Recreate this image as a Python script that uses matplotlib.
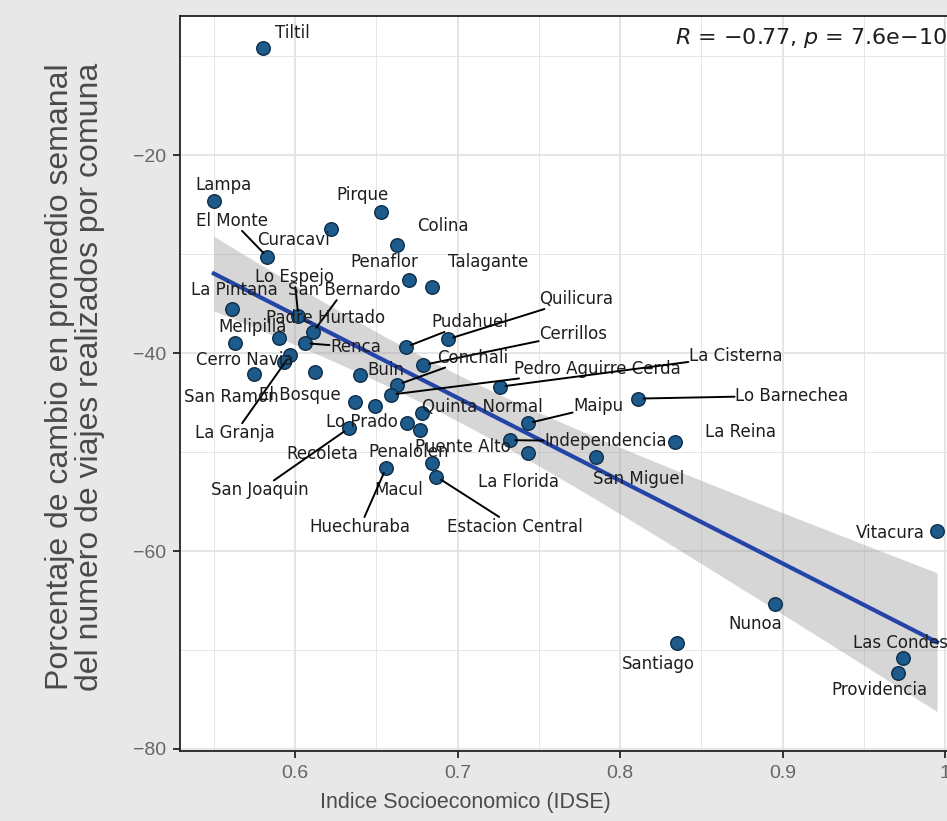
import numpy as np
import matplotlib.pyplot as plt

# IDSE vs % change in weekly trips per comuna
comunas = ['Tiltil', 'Lampa', 'Pirque', 'Curacavi', 'Colina', 'El Monte', 'Penaflor',
           'Talagante', 'La Pintana', 'Lo Espejo', 'San Bernardo', 'Padre Hurtado',
           'Melipilla', 'Renca', 'La Granja', 'Cerro Navia', 'San Ramon', 'El Bosque',
           'Buin', 'Pudahuel', 'Quilicura', 'Cerrillos', 'Conchali', 'Pedro Aguirre Cerda',
           'La Cisterna', 'Lo Prado', 'Recoleta', 'Quinta Normal', 'Penalolen', 'Puente Alto',
           'Macul', 'Huechuraba', 'Estacion Central', 'San Joaquin', 'Maipu', 'Independencia',
           'La Florida', 'San Miguel', 'La Reina', 'Lo Barnechea', 'Vitacura', 'Nunoa',
           'Santiago', 'Las Condes', 'Providencia']
idse = [0.580, 0.550, 0.653, 0.622, 0.663, 0.583, 0.670,
        0.684, 0.561, 0.602, 0.611, 0.590,
        0.563, 0.606, 0.597, 0.593, 0.575, 0.612,
        0.640, 0.668, 0.694, 0.679, 0.663, 0.659,
        0.726, 0.649, 0.637, 0.678, 0.669, 0.677,
        0.684, 0.656, 0.687, 0.633, 0.743, 0.732,
        0.743, 0.785, 0.834, 0.811, 0.995, 0.895,
        0.835, 0.974, 0.971]
cambio = [-9.2, -24.6, -25.8, -27.5, -29.1, -30.3, -32.6,
          -33.3, -35.6, -36.3, -37.9, -38.5,
          -39.0, -39.0, -40.2, -40.9, -42.1, -41.9,
          -42.2, -39.4, -38.6, -41.2, -43.2, -44.2,
          -43.4, -45.3, -44.9, -46.1, -47.1, -47.8,
          -51.1, -51.6, -52.5, -47.6, -47.1, -48.8,
          -50.1, -50.5, -49.0, -44.6, -58.0, -65.4,
          -69.3, -70.8, -72.3]

# label placement (offset of label centre from point, pixels) and which labels get a segment
label_offsets = {
    'Tiltil': (30, 15), 'Lampa': (10, 16), 'Pirque': (-19, 17), 'Curacavi': (-37, -11),
    'Colina': (45, 19), 'El Monte': (-35, 36), 'Penaflor': (-25, 18), 'Talagante': (57, 25),
    'La Pintana': (3, 19), 'Lo Espejo': (-4, 39), 'San Bernardo': (31, 42),
    'Padre Hurtado': (47, 20), 'Melipilla': (18, 16), 'Renca': (51, -4),
    'La Granja': (-55, -78), 'Cerro Navia': (-39, 2), 'San Ramon': (-23, -23),
    'El Bosque': (-15, -23), 'Buin': (26, 5), 'Pudahuel': (64, 25), 'Quilicura': (128, 40),
    'Cerrillos': (150, 31), 'Conchali': (75, 27), 'Pedro Aguirre Cerda': (206, 26),
    'La Cisterna': (236, 31), 'Lo Prado': (-13, -16), 'Recoleta': (-33, -52),
    'Quinta Normal': (61, 6), 'Penalolen': (1, -29), 'Puente Alto': (43, -17),
    'Macul': (-33, -27), 'Huechuraba': (-26, -59), 'Estacion Central': (78, -50),
    'San Joaquin': (-89, -62), 'Maipu': (71, 17), 'Independencia': (96, -1),
    'La Florida': (-9, -29), 'San Miguel': (43, -22), 'La Reina': (65, 10),
    'Lo Barnechea': (154, 3), 'Vitacura': (-47, -2), 'Nunoa': (-19, -20),
    'Santiago': (-19, -21), 'Las Condes': (-2, 15), 'Providencia': (-19, -17)}
with_segment = {'El Monte', 'Lo Espejo', 'San Bernardo', 'Renca', 'La Granja', 'Pudahuel',
                'Quilicura', 'Cerrillos', 'Conchali', 'Pedro Aguirre Cerda', 'La Cisterna',
                'Huechuraba', 'Estacion Central', 'San Joaquin', 'Maipu', 'Independencia',
                'Lo Barnechea'}

x = np.array(idse)
y = np.array(cambio)

# linear fit + 95% confidence band (like geom_smooth(method='lm'))
n = len(x)
b, a = np.polyfit(x, y, 1)
resid = y - (a + b * x)
s = np.sqrt(np.sum(resid ** 2) / (n - 2))
xs = np.linspace(x.min(), x.max(), 100)
se = s * np.sqrt(1 / n + (xs - x.mean()) ** 2 / np.sum((x - x.mean()) ** 2))
t975 = 2.017
yfit = a + b * xs

fig = plt.figure(figsize=(9.47, 8.21), dpi=100, facecolor='#e8e8e8')
ax = fig.add_axes([0.1901, 0.0853, 0.8406, 0.8952])
ax.set_facecolor('white')

ax.fill_between(xs, yfit - t975 * se, yfit + t975 * se, color='#999999', alpha=0.4,
                lw=0, zorder=1)
ax.plot(xs, yfit, color='#2444a8', lw=3, zorder=2)
ax.scatter(x, y, s=95, color='#1d5b8c', edgecolor='#0e2c47', linewidth=1, zorder=3)

for name, xi, yi in zip(comunas, idse, cambio):
    dx, dy = label_offsets[name]
    kw = {}
    if name in with_segment:
        kw['arrowprops'] = dict(arrowstyle='-', color='black', lw=1.4,
                                shrinkA=0, shrinkB=4)
    ax.annotate(name, (xi, yi), xytext=(dx, dy), textcoords='offset pixels',
                ha='center', va='center', fontsize=12, color='#1e1e1e',
                family='DejaVu Sans',
                bbox=dict(boxstyle='square,pad=0.05', fc='none', ec='none'),
                zorder=4, annotation_clip=False, **kw)

ax.text(0.8335, -8.2, r'$R$ = −0.77, $p$ = 7.6e−10', fontsize=16, color='#1e1e1e',
        ha='left', va='center', zorder=5)

ax.set_xlim(0.5292, 1.019)
ax.set_ylim(-80.2, -5.95)
ax.set_xticks([0.6, 0.7, 0.8, 0.9, 1.0])
ax.set_xticklabels(['0.6', '0.7', '0.8', '0.9', '1'])
ax.set_yticks([-80, -60, -40, -20])
ax.set_yticklabels(['−80', '−60', '−40', '−20'])
ax.set_xticks([0.55, 0.65, 0.75, 0.85, 0.95], minor=True)
ax.set_yticks([-70, -50, -30, -10], minor=True)
ax.tick_params(which='major', length=5, width=1.3, color='#222222', labelsize=14,
               labelcolor='#666666', pad=5)
ax.tick_params(which='minor', length=0)
for lab in ax.get_xticklabels() + ax.get_yticklabels():
    lab.set_family('Liberation Sans')
ax.grid(which='major', color='#e0e0e0', lw=1.2)
ax.grid(which='minor', color='#e6e6e6', lw=0.7)
ax.set_axisbelow(True)
for sp in ax.spines.values():
    sp.set_color('#222222')
    sp.set_linewidth(1.3)

fig.text(0.491, 0.023, 'Indice Socioeconomico (IDSE)', fontsize=15.5, color='#4a4a4a',
         family='Liberation Sans', ha='center', va='center')
fig.text(0.0797, 0.541, 'Porcentaje de cambio en promedio semanal\n'
         'del numero de viajes realizados por comuna', fontsize=23, color='#4a4a4a',
         family='Liberation Sans', rotation=90, ha='center', va='center',
         multialignment='center', linespacing=1.0)

fig.savefig('out.png', dpi=100, facecolor=fig.get_facecolor())
